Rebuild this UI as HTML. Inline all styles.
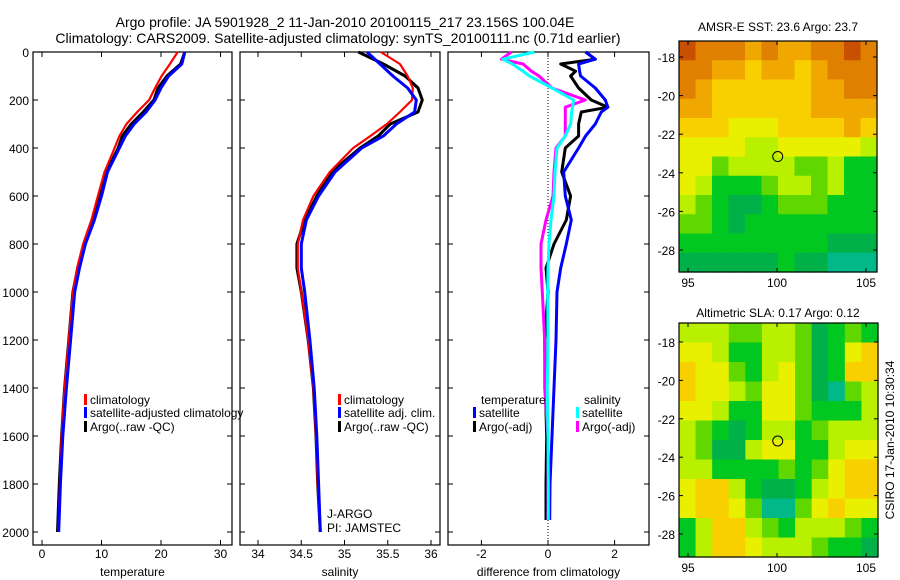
<!DOCTYPE html>
<html><head><meta charset="utf-8">
<style>
html,body{margin:0;padding:0;background:#fff;}
svg{display:block;font-family:"Liberation Sans",sans-serif;}
</style></head>
<body>
<svg id="fig" width="900" height="580" viewBox="0 0 900 580">
  <text x="345" y="27" font-size="14" text-anchor="middle">Argo profile: JA 5901928_2 11-Jan-2010 20100115_217 23.156S 100.04E</text>
  <text x="338" y="43" font-size="14" text-anchor="middle">Climatology: CARS2009. Satellite-adjusted climatology: synTS_20100111.nc (0.71d earlier)</text>
  <text x="778" y="31" font-size="12" text-anchor="middle">AMSR-E SST: 23.6 Argo: 23.7</text>
  <text x="778" y="317" font-size="12" text-anchor="middle">Altimetric SLA: 0.17 Argo: 0.12</text>
  <text transform="translate(894,440) rotate(-90)" font-size="12" text-anchor="middle">CSIRO 17-Jan-2010 10:30:34</text>
  <g id="plots"></g>
</svg>
<script>
// ---------- data ----------
const depths = [0,50,100,150,200,250,300,350,400,500,600,700,800,900,1000,1200,1400,1600,1800,2000];
const tempClim = [22.8,21.5,20.1,19.0,18.0,16.0,14.2,13.0,12.2,10.5,9.4,8.3,6.9,5.9,5.2,4.5,3.8,3.3,3.0,2.7];
const tempSat  = [24.0,23.5,21.3,20.0,19.0,17.5,15.5,14.0,13.0,11.0,10.0,8.8,7.3,6.3,5.5,4.8,4.1,3.5,3.1,2.8];
const tempArgo = [24.0,23.3,21.0,19.5,18.8,17.0,15.0,13.5,12.8,10.8,9.8,8.6,7.1,6.0,5.2,4.5,3.8,3.3,2.9,2.6];
const salClim = [35.42,35.64,35.73,35.79,35.78,35.64,35.49,35.30,35.10,34.83,34.64,34.52,34.46,34.46,34.50,34.58,34.64,34.67,34.69,34.72];
const salSat  = [35.26,35.41,35.56,35.73,35.83,35.81,35.60,35.45,35.20,34.89,34.70,34.56,34.50,34.50,34.54,34.60,34.65,34.68,34.70,34.72];
const salArgo = [35.16,35.45,35.70,35.85,35.90,35.85,35.53,35.39,35.18,34.85,34.68,34.54,34.45,34.45,34.50,34.58,34.64,34.67,34.69,34.72];
const diffDepths = [0,30,50,80,100,150,200,230,250,300,350,400,500,600,700,800,900,1000,1200,1400,1600,1800,1950];
const dTempSat  = [1.13,1.42,0.92,0.95,0.98,1.42,1.72,1.8,1.6,1.42,1.13,0.92,0.47,0.52,0.70,0.55,0.38,0.27,0.24,0.18,0.12,0.06,0.05];
const dTempArgo = [1.13,1.42,0.38,0.83,0.68,0.92,1.30,1.80,1.00,0.92,0.92,0.52,0.41,0.68,0.55,0.18,-0.06,0.0,-0.1,-0.08,-0.04,-0.06,-0.06];
const dSalSat   = [-0.41,-1.36,-1.07,-0.75,-0.56,0.12,0.77,0.74,0.71,0.68,0.52,0.27,0.21,0.18,0.09,0.03,0.0,-0.01,0.0,-0.02,0.0,0.01,0.01];
const dSalArgo  = [-1.1,-1.4,-0.75,-0.5,-0.27,0.12,1.12,0.52,0.52,0.52,0.52,0.24,0.18,0.15,-0.06,-0.21,-0.21,-0.17,-0.1,-0.1,0.0,0.0,0.0];
const depthTicks = [0,200,400,600,800,1000,1200,1400,1600,1800,2000];
const tempTicks = [0,10,20,30];
const salTicks = [34,34.5,35,35.5,36];
const diffTicks = [-2,0,2];
const lonTicks = [95,100,105];
const latTicks = [-18,-20,-22,-24,-26,-28];
// map grids: rows north(-17) to south(-29), cols west(94.5) to east(105.7); colour index 0..10
const sstGrid = [
 [10,9,9,9,8,9,8,8,9,9,10,9],
 [9,9,8,8,7,8,8,7,8,9,9,9],
 [9,8,7,7,7,7,7,7,8,8,9,9],
 [8,8,7,7,7,7,7,7,8,8,8,8],
 [7,7,7,6,6,6,7,7,7,7,8,7],
 [6,6,6,6,5,5,6,6,6,6,6,5],
 [6,6,4,5,5,5,5,4,4,5,3,3],
 [6,5,3,3,3,4,5,5,4,5,3,3],
 [5,4,3,2,2,3,4,4,4,3,3,3],
 [4,4,3,2,3,3,3,3,3,3,3,3],
 [3,3,3,3,3,3,3,3,3,2,2,2],
 [2,2,2,2,2,2,3,2,2,1,1,1]];
const slaGrid = [
 [5,5,5,4,4,5,5,4,2,3,4,3],
 [6,6,5,3,3,5,5,4,2,3,6,7],
 [7,6,6,4,3,5,6,4,2,3,7,7],
 [7,6,6,5,4,6,6,4,2,1,4,5],
 [6,6,5,3,3,6,6,4,3,3,3,5],
 [5,4,3,2,3,5,5,3,4,5,5,5],
 [5,4,2,2,5,6,6,3,3,5,6,6],
 [5,5,3,3,3,3,4,3,4,6,7,7],
 [6,7,7,5,3,2,2,3,5,6,7,7],
 [6,7,7,6,4,1,1,4,6,7,6,6],
 [3,5,7,7,5,4,3,5,5,5,4,3],
 [3,5,7,7,6,5,5,5,4,3,3,2]];
const argoLon = 100.04, argoLat = -23.156;
const cmap = ['#00d0c0','#00b888','#00b048','#00c820','#60d800','#b8f000','#e8f000','#f8d000','#f0a800','#e08000','#c85000'];

// ---------- helpers ----------
const NS='http://www.w3.org/2000/svg';
const root=document.getElementById('plots');
function mk(tag,attrs,parent){const e=document.createElementNS(NS,tag);for(const k in attrs)e.setAttribute(k,attrs[k]);(parent||root).appendChild(e);return e;}
const yD = d => 52 + d*0.24;

function axesBox(x0,x1,y0,y1,name){
  const r=mk('rect',{x:x0,y:y0,width:x1-x0,height:y1-y0,fill:'none',stroke:'#000','stroke-width':1.2});
  
  
}
function profilePanel(x0,x1,xs,xt,label,lname){
  axesBox(x0,x1,52,545,lname+'-axes');
  depthTicks.forEach(d=>{
    const y=yD(d);
    mk('line',{x1:x0,x2:x0+5,y1:y,y2:y,stroke:'#000'});
    mk('line',{x1:x1,x2:x1-5,y1:y,y2:y,stroke:'#000'});
  });
  xt.forEach(v=>{
    const x=xs(v);
    mk('line',{x1:x,x2:x,y1:545,y2:540,stroke:'#000'});
    mk('line',{x1:x,x2:x,y1:52,y2:57,stroke:'#000'});
    const t=mk('text',{x:x,y:558,'font-size':12,'text-anchor':'middle'});t.textContent=v;
    
    
  });
  const t=mk('text',{x:(x0+x1)/2,y:576,'font-size':12,'text-anchor':'middle'});t.textContent=label;
  
  
}
function line(xs,vals,ds,color,w,name){
  const pts=vals.map((v,i)=>xs(v).toFixed(1)+','+yD(ds[i]).toFixed(1)).join(' ');
  const p=mk('polyline',{points:pts,fill:'none',stroke:color,'stroke-width':w,'stroke-linejoin':'round'});
  
  
}
function legendEntry(x,y,color,text,name){
  if(color){const r=mk('rect',{x:x,y:y-9,width:3,height:11,fill:color});}
  const t=mk('text',{x:x+6,y:y+1,'font-size':12});t.textContent=text;
  
  
}

// y tick labels (shared, left panel)
depthTicks.forEach(d=>{
  const t=mk('text',{x:29,y:yD(d)+5,'font-size':12,'text-anchor':'end'});t.textContent=d;
  
  
});

// Panel 1 temperature
const xT=v=>42+v*5.95;
profilePanel(33,232,xT,tempTicks,'temperature','temperature-panel');
line(xT,tempArgo,depths,'#000',3,'temp-argo-line');
line(xT,tempClim,depths,'#ff0000',2.2,'temp-climatology-line');
line(xT,tempSat,depths,'#0000ff',3,'temp-satellite-line');
legendEntry(84,403,'#ff0000','climatology','temp-legend-climatology');
legendEntry(84,416,'#0000ff','satellite-adjusted climatology','temp-legend-satellite');
legendEntry(84,430,'#000','Argo(..raw -QC)','temp-legend-argo');

// Panel 2 salinity
const xS=v=>258+(v-34)*86.5;
profilePanel(240,440,xS,salTicks,'salinity','salinity-panel');
line(xS,salArgo,depths,'#000',3,'sal-argo-line');
line(xS,salClim,depths,'#ff0000',2.2,'sal-climatology-line');
line(xS,salSat,depths,'#0000ff',3,'sal-satellite-line');
legendEntry(338,403,'#ff0000','climatology','sal-legend-climatology');
legendEntry(338,416,'#0000ff','satellite adj. clim.','sal-legend-satellite');
legendEntry(338,430,'#000','Argo(..raw -QC)','sal-legend-argo');
legendEntry(321,517,null,'J-ARGO','sal-note-jargo');
legendEntry(321,531,null,'PI: JAMSTEC','sal-note-pi');

// Panel 3 difference
const xDf=v=>548+v*33.3;
profilePanel(448,649,xDf,diffTicks,'difference from climatology','diff-panel');
mk('line',{x1:xDf(0),x2:xDf(0),y1:52,y2:545,stroke:'#000','stroke-dasharray':'1,2'});
line(xDf,dTempArgo,diffDepths,'#000',3,'diff-temp-argo-line');
line(xDf,dTempSat,diffDepths,'#0000ff',3,'diff-temp-satellite-line');
line(xDf,dSalArgo,diffDepths,'#ff00ff',3,'diff-sal-argo-line');
line(xDf,dSalSat,diffDepths,'#00ffff',3,'diff-sal-satellite-line');
legendEntry(475,403,null,'temperature','diff-legend-temp-header');
legendEntry(473,416,'#0000ff','satellite','diff-legend-temp-satellite');
legendEntry(473,430,'#000','Argo(-adj)','diff-legend-temp-argo');
legendEntry(578,403,null,'salinity','diff-legend-sal-header');
legendEntry(576,416,'#00ffff','satellite','diff-legend-sal-satellite');
legendEntry(576,430,'#ff00ff','Argo(-adj)','diff-legend-sal-argo');

// Maps
function mapPanel(grid,x0,x1,y0,y1,latY,name){
  const lonX=lon=>688+(lon-95)*17.8;
  const nr=grid.length,nc=grid[0].length;
  const cw=(x1-x0)/nc,ch=(y1-y0)/nr;
  grid.forEach((row,i)=>row.forEach((v,j)=>{
    const r=mk('rect',{x:(x0+j*cw).toFixed(2),y:(y0+i*ch).toFixed(2),width:(cw+0.6).toFixed(2),height:(ch+0.6).toFixed(2),fill:cmap[v]});
    
    
  }));
  axesBox(x0,x1,y0,y1,name+'-axes');
  lonTicks.forEach(l=>{
    const x=lonX(l);
    mk('line',{x1:x,x2:x,y1:y1,y2:y1-4,stroke:'#000'});
    mk('line',{x1:x,x2:x,y1:y0,y2:y0+4,stroke:'#000'});
    const t=mk('text',{x:x,y:y1+15,'font-size':12,'text-anchor':'middle'});t.textContent=l;
    
    
  });
  latTicks.forEach(l=>{
    const y=latY(l);
    mk('line',{x1:x0,x2:x0+4,y1:y,y2:y,stroke:'#000'});
    mk('line',{x1:x1,x2:x1-4,y1:y,y2:y,stroke:'#000'});
    const t=mk('text',{x:x0-4,y:y+5,'font-size':12,'text-anchor':'end'});t.textContent=l;
    
    
  });
  const c=mk('circle',{cx:lonX(argoLon),cy:latY(argoLat),r:5,fill:'none',stroke:'#000','stroke-width':1});
  
  
}
mapPanel(sstGrid,679,877,41,272,lat=>57+(-18-lat)*19.3,'sst-map');
mapPanel(slaGrid,679,878,323,557,lat=>342+(-18-lat)*19.2,'sla-map');
</script>
</body></html>
